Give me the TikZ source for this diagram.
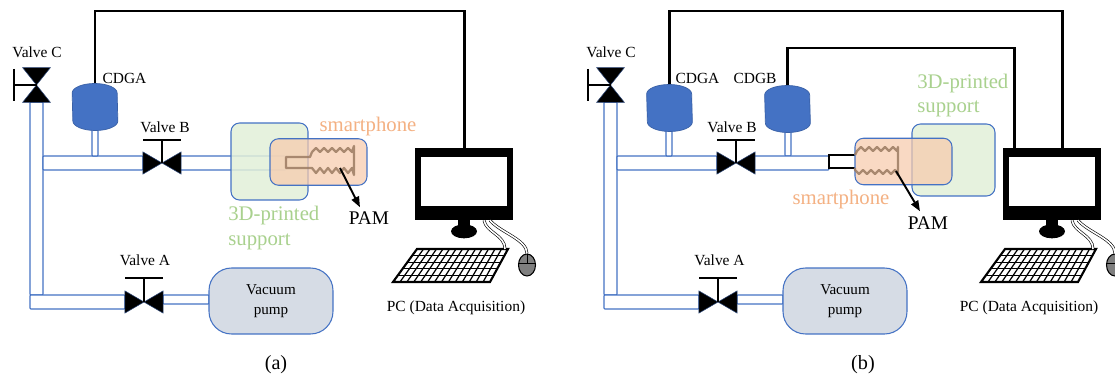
\documentclass[tikz,border=0pt]{standalone}
\usepackage{fontspec}
\setmainfont{Liberation Serif}
\usepackage{tikz}
\usetikzlibrary{calc,shapes.geometric,arrows.meta}

\definecolor{pipeblue}{HTML}{4472C4}
\definecolor{gaugeblue}{HTML}{4472C4}
\definecolor{pumpgray}{HTML}{D6DCE5}
\definecolor{supgreen}{HTML}{E2F0D9}
\definecolor{suptext}{HTML}{A9D18E}
\definecolor{phoneorange}{HTML}{F8CBAD}
\definecolor{phonetext}{HTML}{F4B183}
\definecolor{pambrown}{HTML}{9C7B62}
\definecolor{mousegray}{HTML}{7F7F7F}

\begin{document}
\begin{tikzpicture}[x=0.02cm, y=-0.02cm]
	\tikzstyle{pipe} = [draw=pipeblue, fill=white, line width=0.6pt, rounded corners=0.5pt]
	\tikzstyle{valveh} = [rectangle, inner sep=0, minimum width=0.75cm, minimum height=0.43cm]
	\tikzstyle{valvev} = [rectangle, inner sep=0, minimum width=0.54cm, minimum height=0.68cm]
	\tikzstyle{bowtie} = [fill=black, draw=pipeblue!60!black, line width=0.3pt]
	\tikzstyle{handle} = [draw=black, line width=1.4pt]
	\tikzstyle{gauge} = [rectangle, inner sep=0, minimum width=0.9cm, minimum height=0.94cm]
	\tikzstyle{can} = [fill=gaugeblue, draw=gaugeblue!85!black, line width=0.4pt]
	\tikzstyle{pump} = [rectangle, rounded corners=0.45cm, fill=pumpgray, draw=pipeblue, line width=0.6pt, minimum width=2.48cm, minimum height=1.32cm, align=center, font=\fontsize{8.6}{11.4}\selectfont]
	\tikzstyle{support} = [rectangle, rounded corners=0.17cm, fill=supgreen, fill opacity=0.85, draw=pipeblue, line width=0.6pt, inner sep=0]
	\tikzstyle{phone} = [rectangle, rounded corners=0.17cm, fill=phoneorange, fill opacity=0.72, draw=pipeblue, line width=0.6pt, inner sep=0, minimum width=1.94cm, minimum height=0.93cm]
	\tikzstyle{pam} = [draw=pambrown, line width=1.3pt, line join=round, draw opacity=0.85]
	\tikzstyle{wire} = [draw=black, line width=1.7pt]
	\tikzstyle{pointer} = [-{Triangle[length=6pt,width=4.5pt]}, line width=1.1pt]
	\tikzstyle{screen} = [rectangle, fill=black, inner sep=0, minimum width=1.96cm, minimum height=1.44cm]
	\tikzstyle{keys} = [draw=black, line width=0.7pt]
	\tikzstyle{mouse} = [ellipse, draw=black, fill=mousegray, line width=0.6pt, inner sep=0, minimum width=0.34cm, minimum height=0.44cm]
	\tikzstyle{cable} = [draw=black, double=white, line width=0.35pt, double distance=0.9pt]
	\tikzstyle{lbl} = [inner sep=0, font=\fontsize{8.8}{10}\selectfont]
	\tikzstyle{big} = [inner sep=0, align=left, font=\fontsize{11.8}{14.2}\selectfont]
	\tikzstyle{pamlbl} = [inner sep=0, font=\fontsize{11}{13}\selectfont]

	\fill[white] (0,0) rectangle (1115,378);
	\useasboundingbox (0,0) rectangle (1115,378);

	% (a) one gauge
	\draw[pipe] (30,102) rectangle (43,295);
	\draw[pipe] (30,295) rectangle (125,309);
	\draw[pipe] (43,156) rectangle (143,170);
	\draw[pipe] (92,128) rectangle (98,156);
	\draw[pipe] (180,156) rectangle (286,170);
	\draw[pipe] (163,295) rectangle (209,304);

	\node[valvev] (vc) at (36.5,85) {};
	\draw[bowtie] (vc.north west) -- (vc.north east) -- (vc.south west) -- (vc.south east) -- cycle;
	\draw[handle] (vc.center) -- (14,85);
	\draw[handle] (14,69) -- (14,101);

	\node[valveh] (vb) at (162,163) {};
	\draw[bowtie] (vb.north west) -- (vb.south east) -- (vb.north east) -- (vb.south west) -- cycle;
	\draw[handle] (vb.center) -- (162,140);
	\draw[handle] (143,140) -- (181,140);

	\node[valveh] (va) at (144,302) {};
	\draw[bowtie] (va.north west) -- (va.south east) -- (va.north east) -- (va.south west) -- cycle;
	\draw[handle] (va.center) -- (144,278);
	\draw[handle] (125,278) -- (163,278);

	\node[gauge] (ga) at (95,107) {};
	\draw[can] ($(ga.west)+(0,-14)$) arc[start angle=180, end angle=0, x radius=0.45cm, y radius=0.19cm]
		-- ($(ga.east)+(0,14)$) arc[start angle=0, end angle=-180, x radius=0.45cm, y radius=0.19cm] -- cycle;
	\node[pump] (vp) at (271,301) {Vacuum\\pump};

	\node[support, minimum width=1.54cm, minimum height=1.54cm] (sp) at (269.5,161.5) {};
	\node[phone] (ph) at (318.5,162) {};
	\draw[pam] (312,152) -- (310,157) -- (286,157) -- (286,168) -- (312,168)
		\foreach \i in {1,...,5} { -- ++(4,5) -- ++(4,-5) } -- (354,175) -- (354,146) -- (352,152)
		\foreach \i in {1,...,5} { -- ++(-4,-4) -- ++(-4,4) };

	\node[lbl] (lvc) at (37,52) {Valve C};
	\node[lbl] (lvb) at (165,127) {Valve B};
	\node[lbl] (lva) at (145,260) {Valve A};
	\node[lbl] (lga) at (124.5,78) {CDGA};
	\node[big, text=phonetext] (lph) at (368,127) {smartphone};
	\node[big, text=suptext, anchor=west] (lsp) at (228,228) {3D-printed\\support};
	\node[pamlbl] (lpam) at (369,218) {PAM};
	\node[lbl] (lpc) at (456,308) {PC (Data Acquisition)};
	\node[pamlbl, font=\fontsize{11.5}{13}\selectfont] (ta) at (276,365) {(a)};

	\coordinate (pa) at (340,168);
	\draw[pointer] (pa) -- ($(lpam.north)+(-9,-4)$);

	\node[screen] (mon) at (464,184) {};
	\fill[white] ($(mon.north west)+(6,9)$) rectangle ($(mon.south east)+(-6,-14)$);
	\fill ($(mon.south)+(-6,-1)$) rectangle ($(mon.south)+(6,6)$);
	\fill ($(mon.south)+(0,11)$) ellipse [x radius=0.26cm, y radius=0.14cm];

	\coordinate (k1) at (417,249);
	\coordinate (k2) at (508,249);
	\coordinate (k3) at (490,282);
	\coordinate (k4) at (393,282);
	\foreach \r in {1,...,4} \draw[keys] ($(k1)!\r/5!(k4)$) -- ($(k2)!\r/5!(k3)$);
	\foreach \c in {1,...,13} \draw[keys] ($(k1)!\c/14!(k2)$) -- ($(k4)!\c/14!(k3)$);
	\draw[keys, line width=1.2pt] (k1) -- (k2) -- (k3) -- (k4) -- cycle;

	\node[mouse] (ms) at (527,265) {};
	\draw[line width=0.5pt] (ms.north) -- ($(ms.center)+(0,-2)$);
	\draw[line width=0.5pt] ($(ms.west)+(0,-2)$) -- ($(ms.east)+(0,-2)$);

	\draw[cable] ($(mon.south)+(20,0)$) .. controls +(2,12) and +(0,-14) .. ($(k2)+(-3,0)$);
	\draw[cable] ($(mon.south)+(26,0)$) .. controls +(10,12) and +(0,-14) .. (ms.north);

	\coordinate (w1) at (300,11);
	\draw[wire] (ga.north) |- (w1) -| (mon.north);

	% (b) two gauges
	\draw[pipe] (604,102) rectangle (617,295);
	\draw[pipe] (604,295) rectangle (699,309);
	\draw[pipe] (617,156) rectangle (717,170);
	\draw[pipe] (666,129) rectangle (672,156);
	\draw[pipe] (785,131) rectangle (791,156);
	\draw[pipe] (754,156) rectangle (829,170);
	\draw[pipe] (737,295) rectangle (783,304);
	\draw[draw=black, line width=1.4pt] (855,155) -- (829,155) -- (829,168) -- (855,168);

	\node[valvev] (vc2) at (610.5,85) {};
	\draw[bowtie] (vc2.north west) -- (vc2.north east) -- (vc2.south west) -- (vc2.south east) -- cycle;
	\draw[handle] (vc2.center) -- (588,85);
	\draw[handle] (588,69) -- (588,101);

	\node[valveh] (vb2) at (736,163) {};
	\draw[bowtie] (vb2.north west) -- (vb2.south east) -- (vb2.north east) -- (vb2.south west) -- cycle;
	\draw[handle] (vb2.center) -- (736,140);
	\draw[handle] (717,140) -- (755,140);

	\node[valveh] (va2) at (718,302) {};
	\draw[bowtie] (va2.north west) -- (va2.south east) -- (va2.north east) -- (va2.south west) -- cycle;
	\draw[handle] (va2.center) -- (718,278);
	\draw[handle] (699,278) -- (737,278);

	\node[gauge] (ga2) at (669.5,108) {};
	\draw[can] ($(ga2.west)+(0,-14)$) arc[start angle=180, end angle=0, x radius=0.45cm, y radius=0.19cm]
		-- ($(ga2.east)+(0,14)$) arc[start angle=0, end angle=-180, x radius=0.45cm, y radius=0.19cm] -- cycle;
	\node[gauge] (gb2) at (787.5,109) {};
	\draw[can] ($(gb2.west)+(0,-14)$) arc[start angle=180, end angle=0, x radius=0.45cm, y radius=0.19cm]
		-- ($(gb2.east)+(0,14)$) arc[start angle=0, end angle=-180, x radius=0.45cm, y radius=0.19cm] -- cycle;
	\node[pump] (vp2) at (845,301) {Vacuum\\pump};

	\node[support, minimum width=1.66cm, minimum height=1.44cm] (sp2) at (953.5,160) {};
	\node[phone] (ph2) at (903.5,161.5) {};
	\draw[pam] (855,155) -- (857,151) \foreach \i in {1,...,5} { -- ++(4,-4) -- ++(4,4) }
		-- (898,147) -- (898,175) -- (895,170) \foreach \i in {1,...,5} { -- ++(-4,4) -- ++(-4,-4) } -- (855,168);

	\node[lbl] (lvc2) at (611,52) {Valve C};
	\node[lbl] (lvb2) at (732,127) {Valve B};
	\node[lbl] (lva2) at (719.5,260) {Valve A};
	\node[lbl] (lga2) at (697.5,78) {CDGA};
	\node[lbl] (lgb2) at (755,78) {CDGB};
	\node[big, text=phonetext] (lph2) at (841,200) {smartphone};
	\node[big, text=suptext, anchor=west] (lsp2) at (917,95.5) {3D-printed\\support};
	\node[pamlbl] (lpam2) at (928,223) {PAM};
	\node[lbl] (lpc2) at (1029,308) {PC (Data Acquisition)};
	\node[pamlbl, font=\fontsize{11.5}{13}\selectfont] (tb) at (863,365) {(b)};

	\coordinate (pb) at (896,171);
	\draw[pointer] (pb) -- ($(lpam2.north)+(-8,-5)$);

	\node[screen] (mon2) at (1052,184) {};
	\fill[white] ($(mon2.north west)+(6,9)$) rectangle ($(mon2.south east)+(-6,-14)$);
	\fill ($(mon2.south)+(-6,-1)$) rectangle ($(mon2.south)+(6,6)$);
	\fill ($(mon2.south)+(0,11)$) ellipse [x radius=0.26cm, y radius=0.14cm];

	\coordinate (kb1) at (1005,249);
	\coordinate (kb2) at (1096,249);
	\coordinate (kb3) at (1078,282);
	\coordinate (kb4) at (981,282);
	\foreach \r in {1,...,4} \draw[keys] ($(kb1)!\r/5!(kb4)$) -- ($(kb2)!\r/5!(kb3)$);
	\foreach \c in {1,...,13} \draw[keys] ($(kb1)!\c/14!(kb2)$) -- ($(kb4)!\c/14!(kb3)$);
	\draw[keys, line width=1.2pt] (kb1) -- (kb2) -- (kb3) -- (kb4) -- cycle;

	\node[mouse] (ms2) at (1115,265) {};
	\draw[line width=0.5pt] (ms2.north) -- ($(ms2.center)+(0,-2)$);
	\draw[line width=0.5pt] ($(ms2.west)+(0,-2)$) -- ($(ms2.east)+(0,-2)$);

	\draw[cable] ($(mon2.south)+(20,0)$) .. controls +(2,12) and +(0,-14) .. ($(kb2)+(-3,0)$);
	\draw[cable] ($(mon2.south)+(26,0)$) .. controls +(10,12) and +(0,-14) .. (ms2.north);

	\coordinate (w2) at (1062,11);
	\coordinate (w3) at (1014,48);
	\draw[wire] (ga2.north) |- (w2) -- (w2 |- mon2.north);
	\draw[wire] (gb2.north) |- (w3) -- (w3 |- mon2.north);
\end{tikzpicture}
\end{document}
